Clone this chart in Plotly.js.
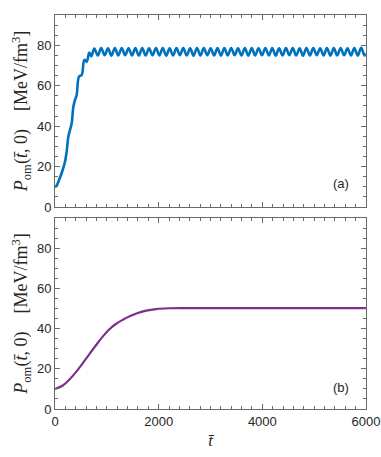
<!DOCTYPE html>
<html>
<head>
<meta charset="utf-8">
<script src="https://cdn.plot.ly/plotly-3.0.1.min.js"></script>
<style>
  html, body { margin: 0; padding: 0; background: #fff; }
  #chart { width: 381px; height: 457px; }
</style>
</head>
<body>
<div id="chart"></div>
<script>
// panel (a): pressure, blue curve (rise then steady oscillation)
const tA = [0, 32, 84, 148, 193, 225, 257, 289, 322, 354, 386, 418, 463, 515, 566, 611, 662, 700,
  759, 825, 891, 957, 1023, 1089, 1155, 1221, 1287, 1353, 1419, 1485, 1551, 1617, 1683, 1749,
  1815, 1881, 1947, 2013, 2079, 2145, 2211, 2277, 2343, 2409, 2475, 2541, 2607, 2673, 2739, 2805,
  2871, 2937, 3003, 3069, 3135, 3201, 3267, 3333, 3399, 3465, 3531, 3597, 3663, 3729, 3795, 3861,
  3927, 3993, 4059, 4125, 4191, 4257, 4323, 4389, 4455, 4521, 4587, 4653, 4719, 4785, 4851, 4917,
  4983, 5049, 5115, 5181, 5247, 5313, 5379, 5445, 5511, 5577, 5643, 5709, 5775, 5841, 5907, 5973, 6000];
const pA = [9.8, 10.6, 13.7, 18.3, 22.4, 27.4, 34.8, 38.1, 41.4, 49.6, 53.0, 55.4, 64.5, 65.3, 72.8, 71.9, 76.4, 74.6,
  78.4, 75.0, 78.6, 75.1, 78.5, 74.9, 78.6, 75.0, 78.7, 75.1, 78.5, 75.0, 78.6, 74.9, 78.6, 75.0,
  78.5, 75.1, 78.7, 75.0, 78.6, 74.9, 78.5, 75.0, 78.6, 75.1, 78.6, 75.0, 78.5, 74.9, 78.7, 75.0,
  78.6, 75.1, 78.5, 75.0, 78.6, 74.9, 78.6, 75.0, 78.7, 75.1, 78.5, 75.0, 78.6, 74.9, 78.6, 75.0,
  78.5, 75.1, 78.7, 75.0, 78.6, 74.9, 78.5, 75.0, 78.6, 75.1, 78.6, 75.0, 78.5, 74.9, 78.7, 75.0,
  78.6, 75.1, 78.5, 75.0, 78.6, 74.9, 78.6, 75.0, 78.7, 75.1, 78.5, 75.0, 78.6, 74.9, 78.8, 75.0, 75.8];

// panel (b): pressure, purple curve (smooth rise to plateau)
const tB = [0, 150, 280, 400, 530, 660, 790, 920, 1050, 1180, 1310, 1440, 1570, 1760, 1950, 2200, 2500, 3000, 4000, 5000, 6000];
const pB = [10.0, 11.7, 14.7, 18.2, 22.6, 27.2, 31.7, 36.0, 39.7, 42.4, 44.4, 46.1, 47.5, 48.9, 49.7, 50.1, 50.2, 50.2, 50.2, 50.2, 50.2];

const xTicks = [0, 2000, 4000, 6000];
const yTicks = [0, 20, 40, 60, 80];
const panelLabels = ['(a)', '(b)'];

const axisColor = '#6a6a6a';
const textColor = '#262626';
const yTitle = '<i>P</i><sub>om</sub>(<i>t\u0304</i>, 0)\u2002\u2002[MeV/fm<sup>3</sup>]';

function xAxis(showLabels, anchor) {
  return {
    anchor: anchor,
    range: [0, 6000],
    tickvals: xTicks,
    showticklabels: showLabels,
    ticks: 'inside', ticklen: 5, tickcolor: axisColor,
    minor: { dtick: 200, ticks: 'inside', ticklen: 3, tickcolor: axisColor },
    showline: true, linecolor: axisColor, linewidth: 1, mirror: 'ticks',
    showgrid: false, zeroline: false,
    tickfont: { family: 'Liberation Sans, Arial, sans-serif', size: 13, color: textColor }
  };
}

function yAxis(domain, anchor) {
  return {
    anchor: anchor,
    domain: domain,
    range: [0, 95],
    tickvals: yTicks,
    ticks: 'inside', ticklen: 5, tickcolor: axisColor,
    minor: { dtick: 5, ticks: 'inside', ticklen: 3, tickcolor: axisColor },
    showline: true, linecolor: axisColor, linewidth: 1, mirror: 'ticks',
    showgrid: false, zeroline: false,
    tickfont: { family: 'Liberation Sans, Arial, sans-serif', size: 13, color: textColor },
    title: { text: yTitle, standoff: 4, font: { family: 'Liberation Serif, Times New Roman, serif', size: 18, color: textColor } }
  };
}

const data = [
  { x: tA, y: pA, xaxis: 'x', yaxis: 'y', type: 'scatter', mode: 'lines',
    line: { color: '#0072BD', width: 2.6, shape: 'spline', smoothing: 1 } },
  { x: tB, y: pB, xaxis: 'x2', yaxis: 'y2', type: 'scatter', mode: 'lines',
    line: { color: '#7E2F8E', width: 2.2, shape: 'spline', smoothing: 1 } }
];

const xBottom = xAxis(true, 'y2');
xBottom.title = { text: '<i>t\u0304</i>', standoff: 6, font: { family: 'Liberation Serif, Times New Roman, serif', size: 17, color: textColor } };

const layout = {
  width: 381, height: 457,
  margin: { l: 55, r: 15, t: 15, b: 48 },
  paper_bgcolor: '#fff', plot_bgcolor: '#fff',
  showlegend: false,
  xaxis: xAxis(false, 'y'),
  yaxis: yAxis([0.5127, 1], 'x'),
  xaxis2: xBottom,
  yaxis2: yAxis([0, 0.4848], 'x2'),
  annotations: [
    { text: panelLabels[0], xref: 'x domain', yref: 'y domain', x: 0.951, y: 0.12, xanchor: 'right', yanchor: 'middle',
      showarrow: false, font: { family: 'Liberation Sans, Arial, sans-serif', size: 13, color: textColor } },
    { text: panelLabels[1], xref: 'x2 domain', yref: 'y2 domain', x: 0.951, y: 0.11, xanchor: 'right', yanchor: 'middle',
      showarrow: false, font: { family: 'Liberation Sans, Arial, sans-serif', size: 13, color: textColor } }
  ]
};

Plotly.newPlot('chart', data, layout, { staticPlot: true });
</script>
</body>
</html>
